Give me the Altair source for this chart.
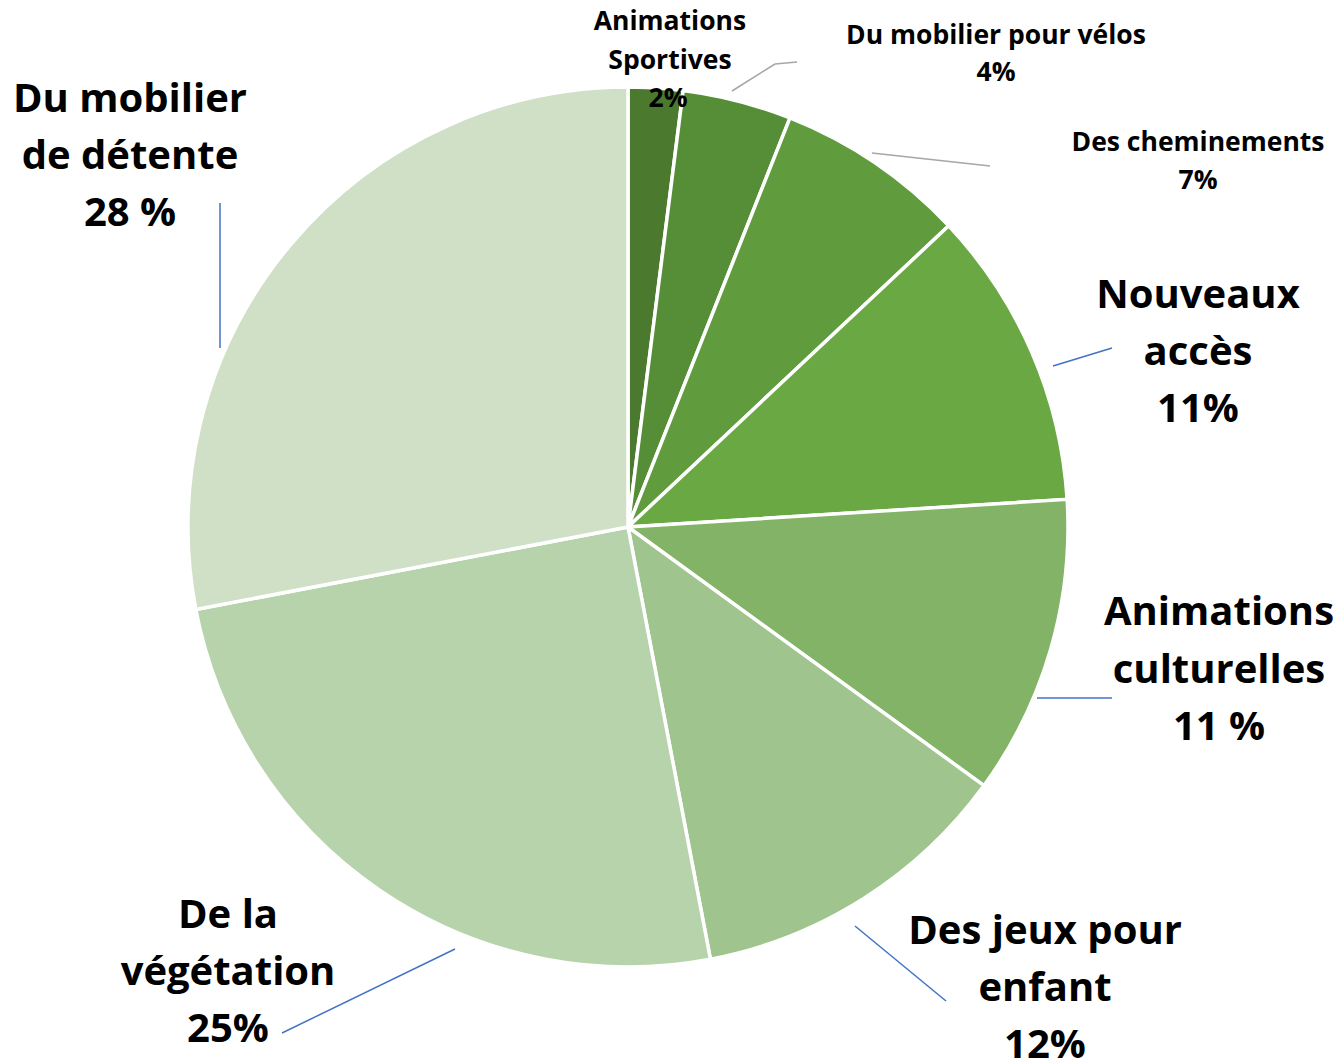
import altair as alt
import pandas as pd

# Slice data (clockwise from 12 o'clock)
categories = ["Animations Sportives", "Du mobilier pour vélos", "Des cheminements",
              "Nouveaux accès", "Animations culturelles", "Des jeux pour enfant",
              "De la végétation", "Du mobilier de détente"]
values = [2, 4, 7, 11, 11, 12, 25, 28]
colors = ["#4b7a2f", "#558e36", "#609c3d", "#6aa843", "#82b366", "#a0c48d", "#b7d3ac", "#d0e0c6"]

# Label lines: text, center x, center y, font size
label_text = ["Animations", "Sportives", "2%",
              "Du mobilier pour vélos", "4%",
              "Des cheminements", "7%",
              "Nouveaux", "accès", "11%",
              "Animations", "culturelles", "11 %",
              "Des jeux pour", "enfant", "12%",
              "De la", "végétation", "25%",
              "Du mobilier", "de détente", "28 %"]
label_x = [670, 670, 668, 996, 996, 1198, 1198, 1198, 1198, 1198,
           1219, 1219, 1219, 1045, 1045, 1045, 228, 228, 228, 130, 130, 130]
label_y = [22, 61, 99, 36, 73, 143, 181, 296, 353, 410,
           613, 671, 728, 932, 989, 1046, 916, 973, 1030, 100, 157, 214]
label_size = [26.5, 26.5, 26.5, 26.5, 26.5, 26.5, 26.5, 40, 40, 40,
              40, 40, 40, 40, 40, 40, 40, 40, 40, 40, 40, 40]

# Leader line segments
seg_x = [220, 1053, 1037, 855, 282, 732, 775, 872]
seg_y = [203, 366, 698, 926, 1033, 91, 64, 153]
seg_x2 = [220, 1112, 1112, 946, 455, 775, 797, 990]
seg_y2 = [348, 348, 698, 1001, 949, 64, 62, 166]
seg_color = ["#4472c4"] * 5 + ["#a6a6a6"] * 3

W, H = 1337, 1062
CX, CY, R = 628, 527, 440

pie_df = pd.DataFrame({"cat": categories, "val": values, "order": list(range(len(values)))})
lab_df = pd.DataFrame({"t": label_text, "x": label_x, "y": label_y, "fs": label_size})
seg_df = pd.DataFrame({"x": seg_x, "y": seg_y, "x2": seg_x2, "y2": seg_y2, "c": seg_color})

xs = alt.Scale(domain=[0, W], range=[0, W])
ys = alt.Scale(domain=[0, H], range=[0, H])

pie = alt.Chart(pie_df).mark_arc(radius=R, stroke="white", strokeWidth=3.5).encode(
    theta=alt.Theta("val:Q", stack=True),
    order=alt.Order("order:Q"),
    color=alt.Color("cat:N", scale=alt.Scale(domain=categories, range=colors), legend=None),
    x=alt.value(CX),
    y=alt.value(CY),
)

segs = alt.Chart(seg_df).mark_rule(strokeWidth=1.5).encode(
    x=alt.X("x:Q", scale=xs, axis=None),
    y=alt.Y("y:Q", scale=ys, axis=None),
    x2="x2:Q",
    y2="y2:Q",
    color=alt.Color("c:N", scale=None),
)

labels = alt.Chart(lab_df).mark_text(font="Open Sans", fontWeight="bold", color="black",
                                     align="center", baseline="middle").encode(
    x=alt.X("x:Q", scale=xs, axis=None),
    y=alt.Y("y:Q", scale=ys, axis=None),
    text="t:N",
    size=alt.Size("fs:Q", scale=None),
)

chart = alt.layer(pie, segs, labels).properties(
    width=W, height=H, autosize=alt.AutoSizeParams(type="none"), padding=0
).configure_view(stroke=None).resolve_scale(color="independent")

chart.save("out.html", embed_options={"renderer": "svg", "actions": False})
